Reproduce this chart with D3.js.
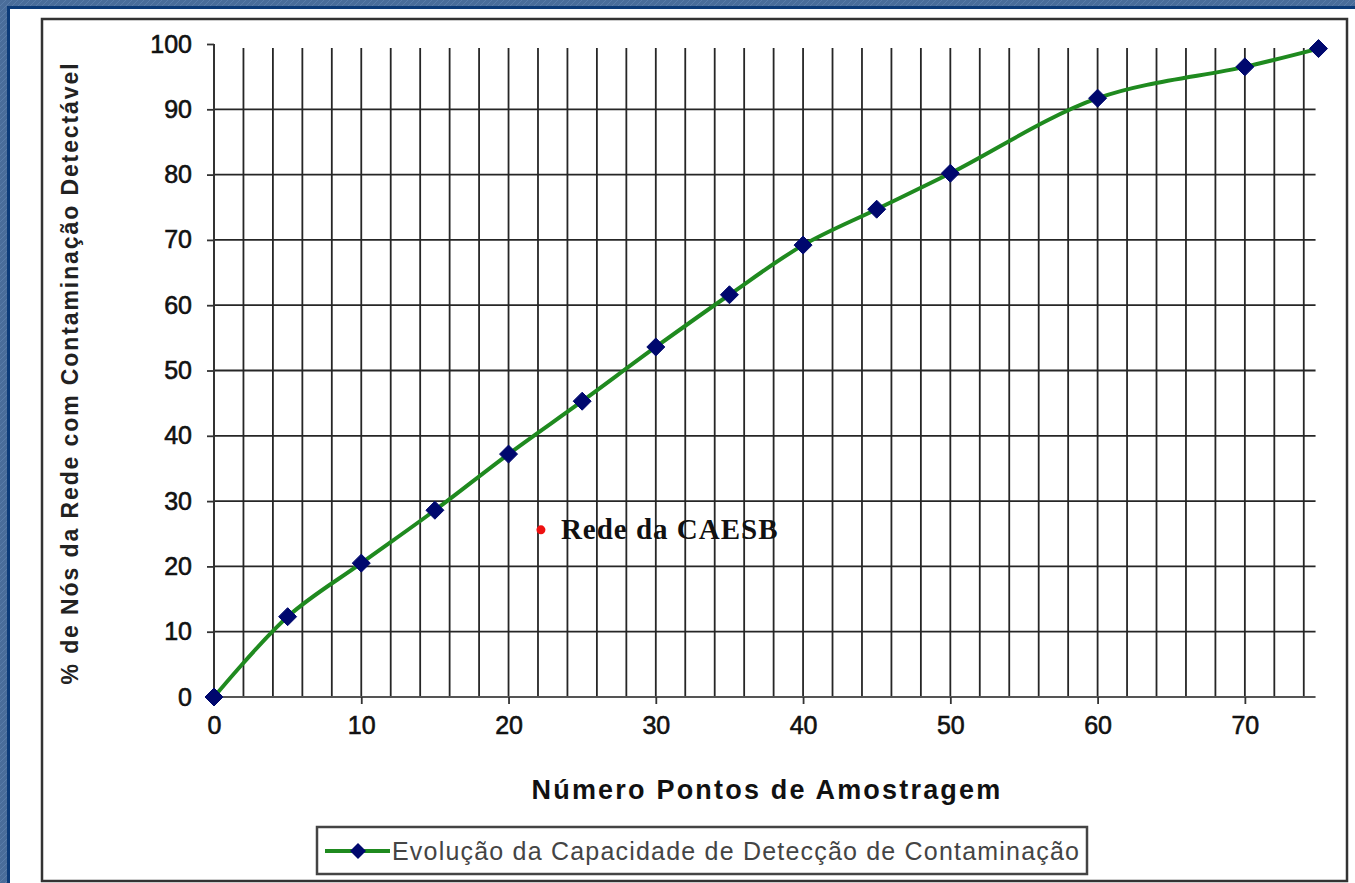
<!DOCTYPE html>
<html>
<head>
<meta charset="utf-8">
<script src="https://cdn.jsdelivr.net/npm/d3@7"></script>
<style>
  html, body { margin: 0; padding: 0; background: #4a6d9a; }
  svg { display: block; }
</style>
</head>
<body>
<svg id="chart" width="1355" height="883"></svg>
<script>
// ---- data ----
const xValues = [0, 5, 10, 15, 20, 25, 30, 35, 40, 45, 50, 60, 70, 75];
const yValues = [0, 12.3, 20.5, 28.6, 37.2, 45.3, 53.6, 61.6, 69.2, 74.7, 80.2, 91.7, 96.5, 99.3];
const seriesName = "Evolução da Capacidade de Detecção de Contaminação";
const xTicks = [0, 10, 20, 30, 40, 50, 60, 70];
const yTicks = [0, 10, 20, 30, 40, 50, 60, 70, 80, 90, 100];
const xGrid = d3.range(2, 75, 2);
const annotationPoint = [22.2, 25.6];
const annotationLabel = "Rede da CAESB";
const xTitle = "Número Pontos de Amostragem";
const yTitle = "% de Nós da Rede com Contaminação Detectável";

const svg = d3.select("#chart");

// background texture
const defs = svg.append("defs");
const pat = defs.append("pattern").attr("id", "bgpat").attr("width", 6).attr("height", 6)
  .attr("patternUnits", "userSpaceOnUse");
pat.append("rect").attr("width", 6).attr("height", 6).attr("fill", "#4a6d9a");
pat.append("path").attr("d", "M0,6 L6,0").attr("stroke", "#5a7daa").attr("stroke-width", 1);
svg.append("rect").attr("width", 1355).attr("height", 883).attr("fill", "url(#bgpat)");

// white panel with dark blue edge
svg.append("rect").attr("x", 8.5).attr("y", 7.5).attr("width", 1360).attr("height", 890)
  .attr("fill", "#ffffff").attr("stroke", "#0b3a78").attr("stroke-width", 3);

// chart area border
svg.append("rect").attr("x", 42).attr("y", 19).attr("width", 1305).attr("height", 862)
  .attr("fill", "#ffffff").attr("stroke", "#333").attr("stroke-width", 2.5);

const x = d3.scaleLinear().domain([0, 75]).range([214, 1318.5]);
const y = d3.scaleLinear().domain([0, 100]).range([697, 44]);

// vertical gridlines
svg.append("g").selectAll("line").data(xGrid).join("line")
  .attr("x1", d => x(d)).attr("x2", d => x(d))
  .attr("y1", y(99.4)).attr("y2", y(0))
  .attr("stroke", "#262626").attr("stroke-width", 1.8);

// horizontal gridlines
svg.append("g").selectAll("line").data(yTicks.filter(d => d > 0 && d < 100)).join("line")
  .attr("x1", x(0)).attr("x2", x(74.8))
  .attr("y1", d => y(d)).attr("y2", d => y(d))
  .attr("stroke", "#262626").attr("stroke-width", 1.8);

// axes
const xAxis = d3.axisBottom(x).tickValues(xTicks).tickSize(7).tickPadding(12).tickFormat(d3.format("d"));
const gx = svg.append("g").attr("transform", `translate(0,${y(0)})`).call(xAxis);
gx.select(".domain").attr("stroke", "#555").attr("stroke-width", 2).attr("d", `M${x(0)},0H${x(74.8)}`);
gx.selectAll(".tick line").attr("stroke", "#333").attr("stroke-width", 1.8);
gx.selectAll(".tick text").attr("font-family", "'Liberation Sans', Arial, sans-serif")
  .attr("font-size", 25).attr("fill", "#111").attr("stroke", "#111").attr("stroke-width", 0.6)
  .attr("dy", "0.71em");

const yAxis = d3.axisLeft(y).tickValues(yTicks).tickSize(7).tickPadding(15).tickFormat(d3.format("d"));
const gy = svg.append("g").attr("transform", `translate(${x(0)},0)`).call(yAxis);
gy.select(".domain").attr("stroke", "#333").attr("stroke-width", 2).attr("d", `M0,${y(100)}V${y(0)}`);
gy.selectAll(".tick line").attr("stroke", "#333").attr("stroke-width", 1.8);
gy.selectAll(".tick text").attr("font-family", "'Liberation Sans', Arial, sans-serif")
  .attr("font-size", 25).attr("fill", "#111").attr("stroke", "#111").attr("stroke-width", 0.6);

// axis titles
svg.append("text").attr("x", 767).attr("y", 799).attr("text-anchor", "middle")
  .attr("font-family", "'Liberation Sans', Arial, sans-serif").attr("font-weight", "bold")
  .attr("font-size", 27).attr("letter-spacing", 2.2).attr("fill", "#111").text(xTitle);

svg.append("text").attr("transform", "translate(78,373) rotate(-90)").attr("text-anchor", "middle")
  .attr("font-family", "'Liberation Sans', Arial, sans-serif").attr("font-weight", "bold")
  .attr("font-size", 23).attr("letter-spacing", 1.9).attr("fill", "#222").text(yTitle);

// series line
const pts = xValues.map((v, i) => [v, yValues[i]]);
const line = d3.line().x(d => x(d[0])).y(d => y(d[1])).curve(d3.curveCatmullRom.alpha(0.5));
svg.append("path").datum(pts).attr("d", line)
  .attr("fill", "none").attr("stroke", "#1f8a1f").attr("stroke-width", 4);

// markers
const diamond = (cx, cy, r) => `M${cx},${cy - r}L${cx + r},${cy}L${cx},${cy + r}L${cx - r},${cy}Z`;
svg.append("g").selectAll("path").data(pts).join("path")
  .attr("d", d => diamond(x(d[0]), y(d[1]), 9))
  .attr("fill", "#00086e").attr("stroke", "#00086e").attr("stroke-width", 1);

// annotation
svg.append("circle").attr("cx", x(annotationPoint[0])).attr("cy", y(annotationPoint[1]))
  .attr("r", 4.5).attr("fill", "#ee1111");
svg.append("text").attr("x", x(annotationPoint[0]) + 20).attr("y", y(annotationPoint[1]) + 9)
  .attr("font-family", "'Liberation Serif', 'Times New Roman', serif").attr("font-weight", "bold")
  .attr("font-size", 29).attr("letter-spacing", 1).attr("fill", "#111").text(annotationLabel);

// legend
const lg = svg.append("g");
lg.append("rect").attr("x", 317).attr("y", 827).attr("width", 770).attr("height", 47)
  .attr("fill", "#fff").attr("stroke", "#444").attr("stroke-width", 2.5);
lg.append("line").attr("x1", 325).attr("x2", 390).attr("y1", 851).attr("y2", 851)
  .attr("stroke", "#1f8a1f").attr("stroke-width", 4);
lg.append("path").attr("d", diamond(358, 851, 8)).attr("fill", "#00086e");
lg.append("text").attr("x", 392).attr("y", 860)
  .attr("font-family", "'Liberation Sans', Arial, sans-serif")
  .attr("font-size", 25).attr("letter-spacing", 1.2).attr("fill", "#444").text(seriesName);
</script>
</body>
</html>
